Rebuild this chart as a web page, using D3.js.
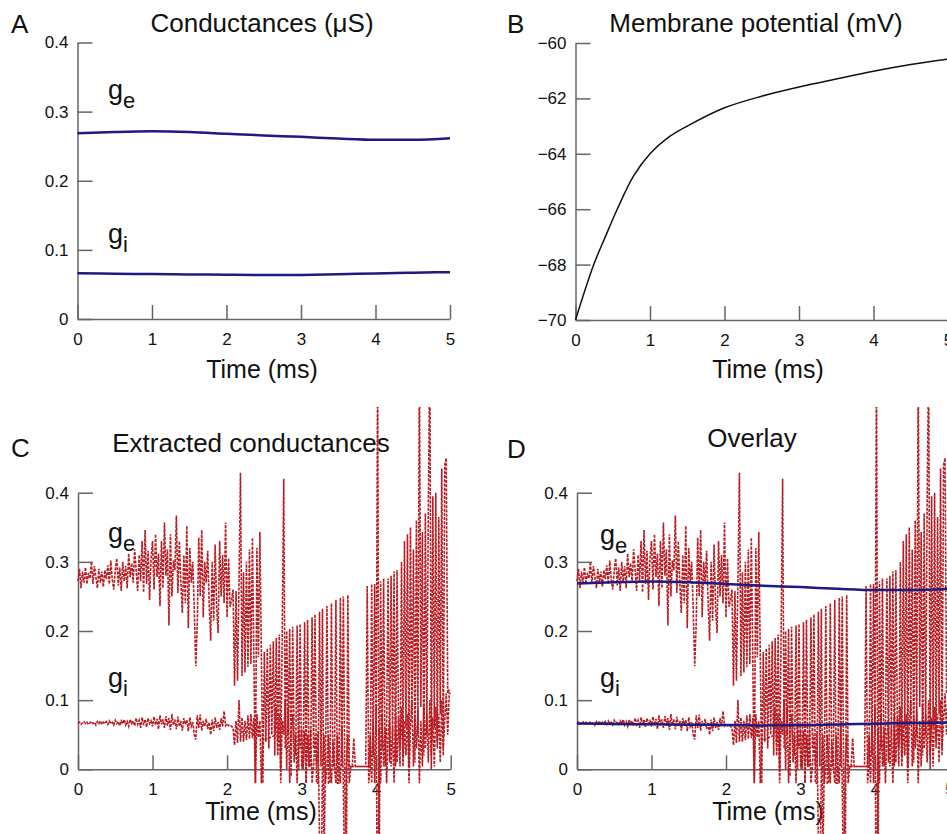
<!DOCTYPE html>
<html><head><meta charset="utf-8">
<script src="https://cdn.jsdelivr.net/npm/d3@7"></script>
<style>
body{margin:0;background:#fff}
svg{display:block}
text{font-family:"Liberation Sans",Arial,Helvetica,sans-serif;fill:#111}
</style>
</head><body>
<svg id="c" width="947" height="834"></svg>
<script>
// ---- data ----
const timeTicks = [0,1,2,3,4,5];
const timeTickLabels = ["0","1","2","3","4","5"];
const condTicks = [0,0.1,0.2,0.3,0.4];
const condTickLabels = ["0","0.1","0.2","0.3","0.4"];
const vmTicks = [-70,-68,-66,-64,-62,-60];
const vmTickLabels = ["\u221270","\u221268","\u221266","\u221264","\u221262","\u221260"];

// true conductances (µS)
const trueTime = [0,0.5,1,1.5,2,2.5,3,3.5,4,4.5,5];
const geTrue = [0.2686,0.2705,0.2715,0.2705,0.268,0.2655,0.2635,0.261,0.2592,0.2592,0.2615];
const giTrue = [0.0662,0.0655,0.065,0.0645,0.064,0.0635,0.0638,0.0648,0.066,0.067,0.0677];

// membrane potential (mV)
const vmTime = [0,0.245,0.4,0.56,0.78,1,1.25,1.5,2,2.5,3,3.5,4,4.5,5];
const vm = [-70,-68,-67.0,-66,-64.8,-64,-63.4,-63.0,-62.34,-61.92,-61.59,-61.3,-61.02,-60.78,-60.58];

// extracted conductances, sampled every 0.02 ms
const extStep = 0.02;
const geExt = [
0.272,0.29,0.262,0.286,0.27,0.292,0.268,0.284,0.276,0.3,
0.268,0.294,0.278,0.262,0.29,0.27,0.286,0.264,0.288,0.275,
0.295,0.268,0.302,0.274,0.26,0.288,0.305,0.266,0.292,0.258,
0.3,0.272,0.294,0.262,0.312,0.278,0.298,0.27,0.318,0.288,
0.258,0.31,0.272,0.33,0.256,0.346,0.268,0.316,0.245,0.305,
0.33,0.26,0.34,0.278,0.312,0.236,0.33,0.262,0.357,0.28,
0.318,0.208,0.34,0.25,0.302,0.288,0.367,0.255,0.33,0.27,
0.226,0.31,0.24,0.352,0.204,0.32,0.27,0.3,0.23,0.149,
0.21,0.335,0.25,0.346,0.22,0.3,0.27,0.316,0.24,0.186,
0.3,0.215,0.325,0.235,0.197,0.33,0.25,0.31,0.24,0.357,
0.22,0.305,0.235,0.245,0.26,0.121,0.258,0.128,0.27,0.429,
0.135,0.285,0.14,0.3,0.148,0.318,0.152,0.335,0.156,-0.02,
0.32,0.162,0.343,0.166,-0.02,0.17,0.04,0.175,0.03,0.18,
0.05,0.185,0.02,0.19,0.04,0.195,0.0,0.198,0.42,0.03,
0.2,0.05,0.203,-0.01,0.206,0.04,0.02,0.208,0.0,0.21,
0.004,0.004,0.213,-0.02,0.216,0.004,0.004,0.22,0.03,0.224,
-0.02,-0.02,0.228,0.004,0.232,-0.13,0.004,0.236,-0.02,-0.02,
0.24,0.004,0.004,0.245,-0.02,-0.02,0.248,0.004,0.25,-0.02,
-0.16,0.252,0.004,0.004,0.004,0.004,0.004,0.004,0.004,0.004,
0.004,0.004,0.004,0.004,0.265,-0.02,0.004,0.268,0.02,0.268,
0.05,0.6,-0.2,0.272,0.03,0.276,0.004,0.06,0.276,0.01,
0.28,0.05,0.286,0.004,0.288,0.07,0.004,0.3,0.02,0.33,
0.06,0.34,0.004,0.35,0.08,0.318,0.01,0.36,0.05,0.6,
0.09,0.343,0.02,0.37,0.05,0.385,0.6,0.0,0.395,0.06,
0.4,0.03,0.365,0.08,0.435,0.02,0.44,0.45,0.11,0.115,
0.115];
const giExt = [
0.066,0.068,0.065,0.067,0.069,0.066,0.068,0.065,0.067,0.069,
0.066,0.068,0.064,0.069,0.066,0.07,0.065,0.068,0.066,0.069,
0.065,0.07,0.066,0.068,0.064,0.071,0.066,0.069,0.063,0.07,
0.066,0.072,0.064,0.069,0.062,0.072,0.066,0.07,0.063,0.074,
0.065,0.071,0.06,0.075,0.064,0.072,0.061,0.074,0.066,0.07,
0.062,0.076,0.064,0.073,0.058,0.078,0.065,0.072,0.06,0.077,
0.063,0.074,0.057,0.08,0.064,0.072,0.058,0.076,0.062,0.07,
0.056,0.074,0.065,0.071,0.055,0.075,0.062,0.068,0.05,0.043,
0.078,0.06,0.079,0.056,0.07,0.062,0.073,0.058,0.068,0.05,
0.072,0.055,0.075,0.06,0.068,0.057,0.074,0.062,0.084,0.063,
0.066,0.063,0.064,0.062,0.06,0.035,0.07,0.038,0.1,0.04,
0.075,0.04,0.07,0.042,0.078,0.044,0.08,0.045,0.074,-0.02,
0.08,0.046,0.07,-0.02,0.045,0.042,0.043,0.044,0.045,0.046,
0.047,0.048,0.049,0.09,0.02,0.08,-0.02,0.07,0.05,0.1,
0.0,0.09,-0.02,0.06,0.08,0.01,0.05,-0.02,0.06,0.03,
0.058,0.0,0.055,-0.02,0.05,0.004,0.058,-0.02,0.004,0.05,
0.004,0.055,-0.1,-0.2,0.004,0.05,-0.02,0.004,0.05,0.004,
-0.02,0.04,0.004,-0.02,0.05,0.004,-0.02,0.06,-0.02,-0.2,
0.004,0.05,-0.02,0.004,0.004,0.045,0.004,0.004,0.004,0.004,
0.004,0.004,0.004,0.004,0.004,0.004,0.05,-0.02,0.07,-0.02,
0.09,-0.3,0.06,-0.02,0.08,0.004,0.06,-0.02,0.05,0.07,
0.004,0.06,-0.02,0.08,0.01,0.075,0.03,0.09,0.004,0.07,
0.02,0.08,-0.02,0.06,0.1,0.004,0.075,0.03,0.085,-0.02,
0.07,0.004,0.095,0.03,0.08,0.01,0.1,0.02,0.075,0.004,
0.09,0.04,0.08,0.01,0.1,0.03,0.07,0.11,0.05,0.11,
0.11];

// ---- drawing ----
const svg = d3.select("#c");
const AXIS = "#666", BLUE = "#1f1a7e", RED = "#b81c22";

svg.append("defs").append("clipPath").attr("id","redclip")
  .append("rect").attr("x",0).attr("y",407).attr("width",947).attr("height",427);

function makeAxes(g, x, y, yTicks, yLabels) {
  const xa = g.append("g").attr("transform",`translate(0,${y.range()[0]})`)
    .call(d3.axisBottom(x).tickValues(timeTicks).tickSize(-14).tickSizeOuter(0)
      .tickPadding(13.5).tickFormat((d,i)=>timeTickLabels[i]));
  const ya = g.append("g").attr("transform",`translate(${x.range()[0]},0)`)
    .call(d3.axisLeft(y).tickValues(yTicks).tickSize(-15).tickSizeOuter(0)
      .tickPadding(9).tickFormat((d,i)=>yLabels[i]));
  [xa,ya].forEach(a=>{
    a.attr("font-family",null).attr("font-size",null);
    a.selectAll("path,line").attr("stroke",AXIS).attr("stroke-width",1.5);
    a.selectAll("text").style("font-size","17px").attr("fill","#111");
  });
}
function txt(x,y,s,size,anchor){
  return svg.append("text").attr("x",x).attr("y",y).attr("text-anchor",anchor||"start")
    .style("font-size",size+"px").text(s);
}
function gLabel(x,y,sub){
  const t = svg.append("text").attr("x",x).attr("y",y).style("font-size","27px");
  t.append("tspan").text("g");
  t.append("tspan").attr("dy",9).style("font-size","22px").text(sub);
}
const ext = geExt.map((v,i)=>({t:i*extStep, ge:v, gi:giExt[i]}));
const trueData = trueTime.map((t,i)=>({t, ge:geTrue[i], gi:giTrue[i]}));

function redTraces(x,y){
  const g = svg.append("g").attr("clip-path","url(#redclip)");
  ["ge","gi"].forEach(k=>{
    g.append("path").datum(ext)
      .attr("d", d3.line().x(d=>x(d.t)).y(d=>y(d[k])))
      .attr("fill","none").attr("stroke",RED).attr("stroke-width",1.6)
      .attr("stroke-dasharray","3,1.2").attr("stroke-linejoin","miter");
  });
}
function blueTraces(x,y){
  ["ge","gi"].forEach(k=>{
    svg.append("path").datum(trueData)
      .attr("d", d3.line().curve(d3.curveMonotoneX).x(d=>x(d.t)).y(d=>y(d[k])))
      .attr("fill","none").attr("stroke",BLUE).attr("stroke-width",2.5);
  });
}

// Panel A
{
  const x = d3.scaleLinear().domain([0,5]).range([77.5,450]);
  const y = d3.scaleLinear().domain([0,0.4]).range([319,42.5]);
  makeAxes(svg, x, y, condTicks, condTickLabels);
  blueTraces(x,y);
  txt(11,33,"A",26);
  txt(262,32,"Conductances (\u03bcS)",26,"middle");
  txt(262,378,"Time (ms)",25,"middle");
  gLabel(108,99,"e");
  gLabel(108,243,"i");
}
// Panel B
{
  const x = d3.scaleLinear().domain([0,5]).range([575.5,948]);
  const y = d3.scaleLinear().domain([-70,-60]).range([320,43]);
  makeAxes(svg, x, y, vmTicks, vmTickLabels);
  svg.append("path").datum(vmTime.map((t,i)=>({t,v:vm[i]})))
    .attr("d", d3.line().curve(d3.curveCatmullRom.alpha(0.5)).x(d=>x(d.t)).y(d=>y(d.v)))
    .attr("fill","none").attr("stroke","#111").attr("stroke-width",1.5);
  txt(507,33,"B",26);
  txt(756,32,"Membrane potential (mV)",26,"middle");
  txt(768,378,"Time (ms)",25,"middle");
}
// Panel C
{
  const x = d3.scaleLinear().domain([0,5]).range([78,450.7]);
  const y = d3.scaleLinear().domain([0,0.4]).range([769.3,492.7]);
  makeAxes(svg, x, y, condTicks, condTickLabels);
  txt(11,457,"C",26);
  txt(251,452,"Extracted conductances",26,"middle");
  txt(261,820,"Time (ms)",25,"middle");
  gLabel(108,542,"e");
  gLabel(108,687,"i");
  redTraces(x,y);
}
// Panel D
{
  const x = d3.scaleLinear().domain([0,5]).range([577,949.5]);
  const y = d3.scaleLinear().domain([0,0.4]).range([769.3,492.7]);
  makeAxes(svg, x, y, condTicks, condTickLabels);
  txt(507,458,"D",26);
  txt(752,447,"Overlay",26,"middle");
  txt(768,820,"Time (ms)",25,"middle");
  gLabel(600,544,"e");
  gLabel(600,687,"i");
  redTraces(x,y);
  blueTraces(x,y);
}
</script>
</body></html>
